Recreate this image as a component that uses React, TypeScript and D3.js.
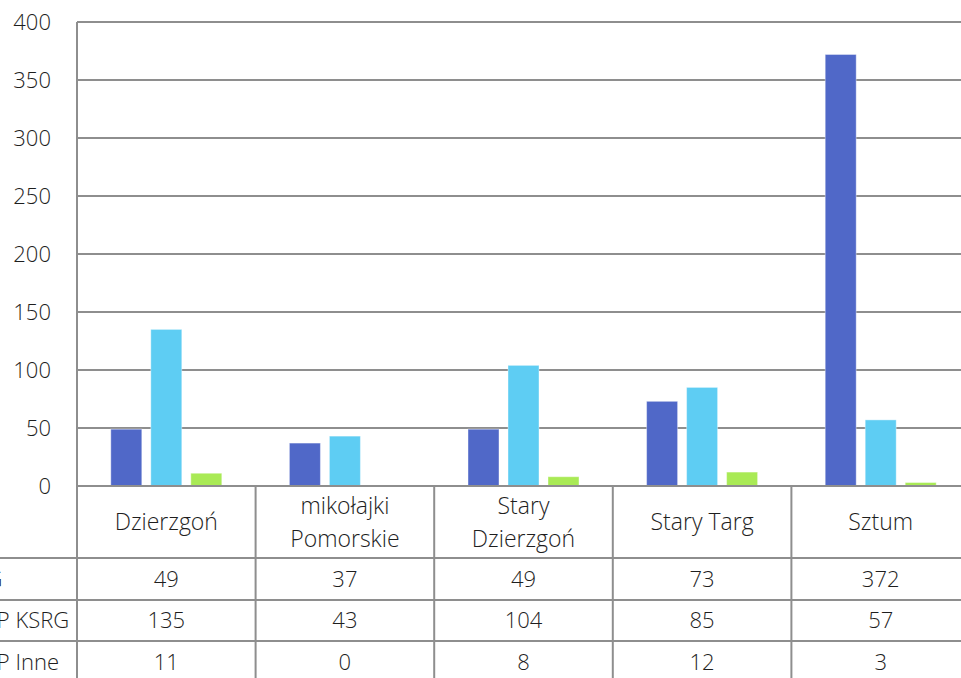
import React from "react";
import * as d3 from "d3";

const categories = ["Dzierzgoń", "mikołajki\nPomorskie", "Stary\nDzierzgoń", "Stary Targ", "Sztum"];
const seriesNames = ["JRG", "OSP KSRG", "OSP Inne"];
const jrg = [49, 37, 49, 73, 372];
const ospKsrg = [135, 43, 104, 85, 57];
const ospInne = [11, 0, 8, 12, 3];
const yTicks = [0, 50, 100, 150, 200, 250, 300, 350, 400];
const colors = ["#5068C8", "#5ECDF3", "#A9EA55"];

const W = 961, H = 678;
const left = 77, catW = 178.6;
const top = 22, base = 486;
const rowLines = [558, 600, 641, 683];
const FONT = "'Open Sans', sans-serif";
const TXT = "#1e1e1e";
const FW = 300;

export default function App() {
  const series = [jrg, ospKsrg, ospInne];
  const x = d3.scaleBand<string>().domain(categories).range([left, left + catW * categories.length]).padding(0);
  const xs = d3.scaleBand<string>().domain(seriesNames).range([0, x.bandwidth()]).paddingInner(0.225).paddingOuter(0.845);
  const y = d3.scaleLinear().domain([0, 400]).range([base, top]);
  const right = left + catW * categories.length;
  const grid = "#8e8e8e";
  return (
    <svg width={W} height={H} style={{ position: "absolute", left: 0, top: 0, background: "#fff" }} fontFamily={FONT}>
      {yTicks.map((t) => (
        <g key={t}>
          <line x1={left} x2={right} y1={y(t)} y2={y(t)} stroke={grid} strokeWidth={2} />
          <text x={51} y={y(t)} dy="0.35em" textAnchor="end" fontSize={22} fontWeight={FW} fill={TXT}>{t}</text>
        </g>
      ))}
      {categories.map((c, ci) =>
        series.map((vals, si) => (
          <rect key={c + si} x={(x(c) as number) + (xs(seriesNames[si]) as number)} width={xs.bandwidth()}
            y={y(vals[ci])} height={base - y(vals[ci])} fill={colors[si]} stroke="#ffffff" strokeOpacity={0.4} strokeWidth={1} />
        ))
      )}
      <line x1={left} x2={right} y1={base} y2={base} stroke={grid} strokeWidth={2} />
      <line x1={left} x2={left} y1={top} y2={H} stroke={grid} strokeWidth={2} />
      {categories.map((c, ci) => (
        <g key={"cat" + c}>
          {ci > 0 && <line x1={x(c)} x2={x(c)} y1={base} y2={H} stroke={grid} strokeWidth={2} />}
          {c.split("\n").map((ln, li, arr) => (
            <text key={li} x={(x(c) as number) + catW / 2} y={(base + 558) / 2 + (li - (arr.length - 1) / 2) * 33} dy="0.35em"
              textAnchor="middle" fontSize={23} fontWeight={FW} fill={TXT}>{ln}</text>
          ))}
          {series.map((vals, si) => (
            <text key={si} x={(x(c) as number) + catW / 2} y={(rowLines[si] + rowLines[si + 1]) / 2} dy="0.35em"
              textAnchor="middle" fontSize={22} fontWeight={FW} fill={TXT}>{vals[ci]}</text>
          ))}
        </g>
      ))}
      {rowLines.slice(0, 3).map((ry) => (
        <line key={ry} x1={0} x2={right} y1={ry} y2={ry} stroke={grid} strokeWidth={2} />
      ))}
      {seriesNames.map((s, si) => (
        <text key={s} x={-32} y={(rowLines[si] + rowLines[si + 1]) / 2} dy="0.35em" fontSize={22} fontWeight={FW} fill={TXT}>{s}</text>
      ))}
    </svg>
  );
}
